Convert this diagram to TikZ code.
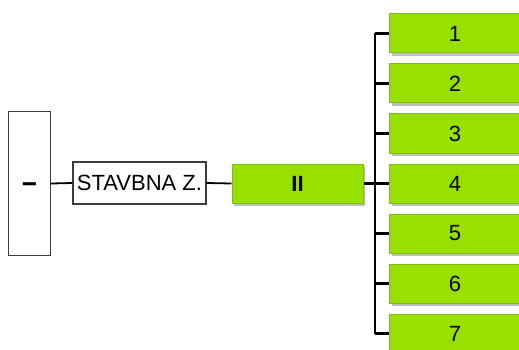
\documentclass[tikz,border=0pt]{standalone}
\usepackage{fontspec}
\setmainfont{Liberation Sans}
\usetikzlibrary{shadows}
\definecolor{leaf}{RGB}{152,224,0}
\definecolor{leafedge}{RGB}{128,190,20}
\definecolor{boxedge}{RGB}{60,60,60}
\tikzset{
  plainbox/.style={draw=boxedge, line width=1.3pt, fill=white, inner sep=0pt,
    font=\fontsize{22}{25}\selectfont},
  greenbox/.style={draw=leafedge, line width=1pt, fill=leaf, inner sep=0pt,
    minimum height=39pt,
    font=\fontsize{22}{25}\selectfont,
    drop shadow={shadow xshift=2pt, shadow yshift=-3pt, opacity=0.25, fill=black}},
  item/.style={greenbox, minimum width=134pt, anchor=west},
  link/.style={draw=black, line width=1.8pt},
  bus/.style={draw=black, line width=2.2pt},
}
\begin{document}
\begin{tikzpicture}[x=1pt,y=-1pt]
\useasboundingbox (0,0) rectangle (519,350);
\clip (0,0) rectangle (519,350);

% left column and the first level
\node[plainbox, minimum width=42pt, minimum height=144pt] (root) at (29.5,183.5) {\raisebox{-8.5pt}[0pt][0pt]{\bfseries\scalebox{1.2}[1.4]{\textendash}}};
\node[plainbox, minimum width=133pt, minimum height=42pt] (stav) at (139.5,183) {STAVBNA Z.};
\node[greenbox, minimum width=131pt] (mid) at (297.5,183.5) {\bfseries II};

% list on the right
\foreach \n/\y in {1/33.5,2/83.5,3/133.5,4/183.5,5/233.5,6/283.5,7/333.5}{
  \node[item] (i\n) at (389,\y) {\hspace*{-3pt}\n};
}

% connectors
\draw[link] (root.east) -- (stav.west);
\draw[link] (stav.east) -- (mid.west);
\coordinate (hub) at (375,183.5);
\draw[bus] (mid.east) -- (hub);
\draw[bus] (i1.west -| hub) -- (i7.west -| hub);
\foreach \n in {1,...,7}{
  \draw[bus] (i\n.west) -- (i\n.west -| hub);
}
\end{tikzpicture}
\end{document}
